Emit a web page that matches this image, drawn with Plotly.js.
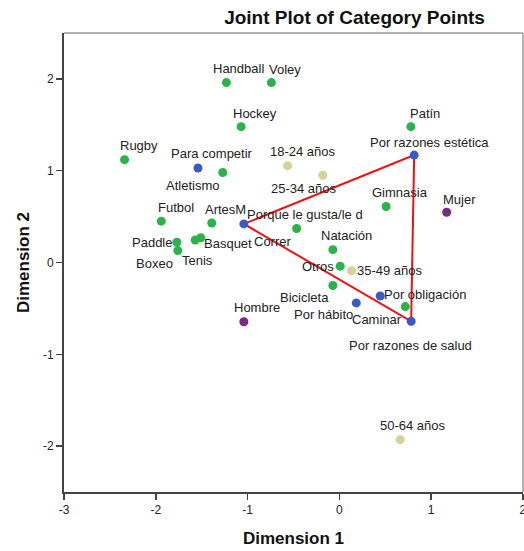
<!DOCTYPE html>
<html>
<head>
<meta charset="utf-8">
<script src="https://cdn.plot.ly/plotly-3.0.1.min.js"></script>
<style>
  html, body { margin: 0; padding: 0; background: #fff; }
  #chart { width: 524px; height: 551px; }
</style>
</head>
<body>
<div id="chart"></div>
<script>
// Category points for each variable: [label, Dimension 1, Dimension 2]
const deportes = [
  ["Handball", -1.23, 1.96],
  ["Voley", -0.74, 1.96],
  ["Hockey", -1.07, 1.48],
  ["Rugby", -2.34, 1.12],
  ["Atletismo", -1.27, 0.98],
  ["Patín", 0.78, 1.48],
  ["Gimnasia", 0.51, 0.61],
  ["Futbol", -1.94, 0.45],
  ["ArtesM", -1.39, 0.43],
  ["Paddle", -1.77, 0.22],
  ["Boxeo", -1.76, 0.13],
  ["Basquet", -1.51, 0.27],
  ["Tenis", -1.57, 0.245],
  ["Correr", -0.465, 0.37],
  ["Natación", -0.07, 0.14],
  ["Otros", 0.01, -0.04],
  ["Bicicleta", -0.07, -0.25],
  ["Caminar", 0.72, -0.48]
];
const motivos = [
  ["Para competir", -1.54, 1.03],
  ["Por razones estética", 0.816, 1.17],
  ["Porque le gusta/le d", -1.04, 0.42],
  ["Por obligación", 0.446, -0.365],
  ["Por hábito", 0.185, -0.44],
  ["Por razones de salud", 0.783, -0.64]
];
const edades = [
  ["18-24 años", -0.563, 1.055],
  ["25-34 años", -0.18, 0.95],
  ["35-49 años", 0.134, -0.09],
  ["50-64 años", 0.664, -1.93]
];
const sexo = [
  ["Mujer", 1.17, 0.547],
  ["Hombre", -1.04, -0.645]
];
// Motives joined by the red triangle
const triangulo = ["Porque le gusta/le d", "Por razones estética", "Por razones de salud", "Porque le gusta/le d"];

const xTicks = [-3, -2, -1, 0, 1, 2];
const yTicks = [-2, -1, 0, 1, 2];

// Label placement relative to each point, in pixels [right, down]
const labelShift = {
  "Handball": [12, -14], "Voley": [14, -13], "Hockey": [14, -13], "Rugby": [14, -14],
  "Atletismo": [-30, 13], "Patín": [14, -13], "Gimnasia": [14, -14], "Futbol": [15, -14],
  "ArtesM": [14, -14], "Paddle": [-25, 0], "Boxeo": [-23, 13], "Basquet": [27, 6],
  "Tenis": [2, 20], "Correr": [-24, 13], "Natación": [14, -14], "Otros": [-22, 0],
  "Bicicleta": [-28, 12], "Caminar": [-28, 13],
  "Para competir": [14, -14], "Por razones estética": [15, -13],
  "Porque le gusta/le d": [61, -9], "Por obligación": [45, -2],
  "Por hábito": [-33, 12], "Por razones de salud": [-1, 24],
  "18-24 años": [15, -14], "25-34 años": [-19, 13], "35-49 años": [38, 0],
  "50-64 años": [13, -14], "Mujer": [13, -13], "Hombre": [13, -14]
};

const FONT = "'Liberation Sans', Arial, Helvetica, sans-serif";

const groups = [
  { rows: deportes, color: "#2bb34a" },
  { rows: motivos, color: "#3b5bc4" },
  { rows: edades, color: "#d6d09a" },
  { rows: sexo, color: "#7a2a82" }
];

const lookup = {};
motivos.forEach(r => { lookup[r[0]] = r; });

const traces = [{
  type: "scatter", mode: "lines",
  x: triangulo.map(n => lookup[n][1]),
  y: triangulo.map(n => lookup[n][2]),
  line: { color: "#ee1111", width: 2 },
  hoverinfo: "skip", showlegend: false
}];

groups.forEach(g => {
  traces.push({
    type: "scatter", mode: "markers",
    x: g.rows.map(r => r[1]),
    y: g.rows.map(r => r[2]),
    text: g.rows.map(r => r[0]),
    marker: { color: g.color, size: 9, line: { width: 0 } },
    showlegend: false
  });
});

const annotations = [];
groups.forEach(g => {
  g.rows.forEach(r => {
    const s = labelShift[r[0]] || [0, -14];
    annotations.push({
      x: r[1], y: r[2], xref: "x", yref: "y",
      text: r[0], showarrow: false,
      xanchor: "center", yanchor: "middle",
      xshift: s[0], yshift: -s[1],
      font: { family: FONT, size: 13, color: "#222" }
    });
  });
});

const axisBase = {
  showgrid: false, zeroline: false,
  showline: true, linecolor: "#444", linewidth: 2,
  ticks: "outside", ticklen: 6, tickwidth: 1.5, tickcolor: "#444",
  tickfont: { family: FONT, size: 12, color: "#222" },
  ticklabeloverflow: "allow",
  fixedrange: true
};

const layout = {
  width: 524, height: 551,
  margin: { l: 64, r: 1, t: 33, b: 59 },
  paper_bgcolor: "#fff", plot_bgcolor: "#fff",
  title: {
    text: "Joint Plot of Category Points",
    font: { family: FONT, size: 19, color: "#111", weight: "bold" },
    xref: "paper", x: 0.633, xanchor: "center",
    yref: "container", y: 0.969, yanchor: "middle"
  },
  xaxis: Object.assign({}, axisBase, {
    range: [-3, 2.002], tickvals: xTicks, ticktext: xTicks.map(String),
    title: { text: "Dimension 1", font: { family: FONT, size: 17, color: "#111", weight: "bold" }, standoff: 16 }
  }),
  yaxis: Object.assign({}, axisBase, {
    range: [-2.5, 2.5], tickvals: yTicks, ticktext: yTicks.map(String),
    title: { text: "Dimension 2", font: { family: FONT, size: 17, color: "#111", weight: "bold" }, standoff: 9 }
  }),
  shapes: [
    { type: "line", xref: "paper", yref: "paper", x0: 0, x1: 1, y0: 1, y1: 1, line: { color: "#9a9a9a", width: 1.5 } },
    { type: "line", xref: "paper", yref: "paper", x0: 1, x1: 1, y0: 0, y1: 1, line: { color: "#9a9a9a", width: 1.5 } }
  ],
  annotations: annotations,
  showlegend: false
};

Plotly.newPlot("chart", traces, layout, { displayModeBar: false, staticPlot: true });
</script>
</body>
</html>
